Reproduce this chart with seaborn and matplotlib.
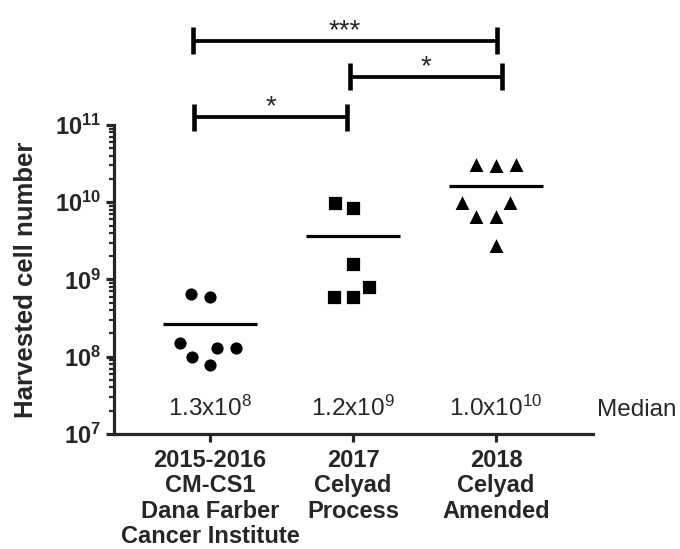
import numpy as np
import pandas as pd
import matplotlib
matplotlib.use("Agg")
import matplotlib.pyplot as plt
import seaborn as sns
from matplotlib.ticker import FixedLocator, LogLocator, NullFormatter

# ---------------- data ----------------
groups = ["2015-2016\nCM-CS1\nDana Farber\nCancer Institute",
          "2017\nCelyad\nProcess",
          "2018\nCelyad\nAmended"]
dfci_cells = [6.0e8, 6.5e8, 1.3e8, 1.5e8, 1.3e8, 9.8e7, 7.8e7]
process_cells = [8.4e9, 9.9e9, 1.6e9, 8.1e8, 5.9e8, 5.9e8]
amended_cells = [3.1e10, 3.0e10, 3.1e10, 1.0e10, 1.0e10, 6.7e9, 6.7e9, 2.8e9]
median_labels = ["1.3x10$^{8}$", "1.2x10$^{9}$", "1.0x10$^{10}$"]
y_exponents = [7, 8, 9, 10, 11]
comparisons = [(0, 1, "*"), (1, 2, "*"), (0, 2, "***")]

# ---------------- style ----------------
sns.set_style("ticks")
plt.rcParams["font.family"] = ["Liberation Sans", "DejaVu Sans"]
plt.rcParams["mathtext.fontset"] = "custom"
plt.rcParams["mathtext.rm"] = "Liberation Sans"
plt.rcParams["mathtext.it"] = "Liberation Sans:italic"
plt.rcParams["mathtext.bf"] = "Liberation Sans:bold"

markers = ["o", "s", "^"]
marker_sizes = [11.0, 11.2, 12.2]
marker_gaps = [2.2, 2.0, 1.4]   # white halo width -> spacing between points
lw = 2.3

df = pd.DataFrame({
    "group": [groups[0]] * len(dfci_cells) + [groups[1]] * len(process_cells)
             + [groups[2]] * len(amended_cells),
    "cells": dfci_cells + process_cells + amended_cells,
})

fig = plt.figure(figsize=(6.8, 5.49), dpi=100)
ax = fig.add_axes([0.1676, 0.2095, 0.7044, 0.5628])
ax.set_yscale("log")

for g, m, s, gap in zip(groups, markers, marker_sizes, marker_gaps):
    sns.swarmplot(data=df[df["group"] == g], x="group", y="cells", order=groups,
                  marker=m, size=s, color="black", edgecolor="white",
                  linewidth=gap, ax=ax)

# mean lines
for i, g in enumerate(groups):
    mean = df.loc[df["group"] == g, "cells"].mean()
    ax.hlines(mean, i - 0.33, i + 0.33, color="black", lw=lw, zorder=3)

ax.set_ylim(1e7, 1e11)
ax.set_xlim(-0.671, 2.678)

# axes styling
sns.despine(ax=ax)
ax.spines["left"].set_linewidth(lw)
ax.spines["bottom"].set_linewidth(lw)
ax.yaxis.set_major_locator(FixedLocator([10.0 ** e for e in y_exponents]))
ax.set_yticklabels([r"$\mathbf{10^{%d}}$" % e for e in y_exponents], fontsize=17)
ax.yaxis.set_minor_locator(LogLocator(base=10, subs=np.arange(2, 10)))
ax.yaxis.set_minor_formatter(NullFormatter())
ax.tick_params(axis="y", which="major", length=6, width=lw, pad=3, direction="out")
ax.tick_params(axis="y", which="minor", length=3.5, width=1.6, direction="out")
ax.tick_params(axis="x", which="major", length=6, width=lw, pad=5, direction="out")
ax.set_xticks(range(len(groups)))
ax.set_xticklabels(groups, fontsize=17, fontweight="bold", linespacing=1.12)
ax.set_xlabel("")
ax.set_ylabel("Harvested cell number", fontsize=18.5, fontweight="bold", labelpad=12)

# median annotations
for i, lab in enumerate(median_labels):
    ax.text(i, 1.7e7, lab, ha="center", va="baseline", fontsize=17.5)
ax.text(2.706, 1.7e7, "Median", ha="left", va="baseline", fontsize=17.5)

# significance brackets
bracket_x = {(0, 1): (-0.11, 0.96), (1, 2): (0.98, 2.04), (0, 2): (-0.12, 2.01)}
bracket_level = {(0, 1): 0.10, (1, 2): 0.625, (0, 2): 1.09}
cap = 0.175
for a, b, star in comparisons:
    x0, x1 = bracket_x[(a, b)]
    lv = 11 + bracket_level[(a, b)]
    yb = 10 ** lv
    ax.plot([x0, x1], [yb, yb], color="black", lw=lw + 0.4, clip_on=False,
            solid_capstyle="butt")
    for xx in (x0, x1):
        ax.plot([xx, xx], [10 ** (lv - cap), 10 ** (lv + cap)], color="black",
                lw=lw + 1.0, clip_on=False, solid_capstyle="butt")
    ax.annotate(star, xy=((x0 + x1) / 2, yb), xytext=(0, 2),
                textcoords="offset points", ha="center", va="baseline",
                fontsize=20, annotation_clip=False)

fig.savefig("out.png", dpi=100)
